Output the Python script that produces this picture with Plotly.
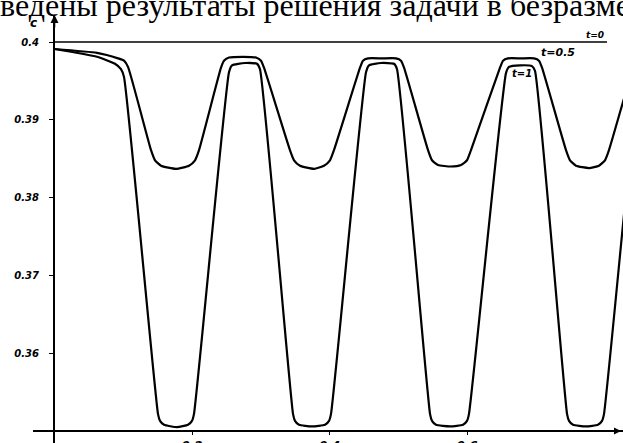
import plotly.graph_objects as go

# ---- data ----
x_t1 = [0.0, 0.0618, 0.0880, 0.0967, 0.1011,
        0.1505, 0.1535, 0.1593, 0.1782, 0.1942, 0.2000, 0.2029,
        0.2538, 0.2582, 0.2771, 0.2945, 0.2989,
        0.3469, 0.3498, 0.3556, 0.3745, 0.3935, 0.3993, 0.4022,
        0.4531, 0.4575, 0.4749, 0.4938, 0.4982,
        0.5462, 0.5491, 0.5549, 0.5753, 0.5942, 0.6000, 0.6029,
        0.6567, 0.6611, 0.6771, 0.6945, 0.6989,
        0.7455, 0.7484, 0.7542, 0.7731, 0.7905, 0.7964, 0.7993,
        0.8502, 0.8545]
y_t1 = [0.3991, 0.3981, 0.3972, 0.3965, 0.3955,
        0.3522, 0.3513, 0.3508, 0.3505, 0.3508, 0.3513, 0.3522,
        0.3961, 0.3970, 0.3973, 0.3972, 0.3965,
        0.3522, 0.3513, 0.3508, 0.3506, 0.3508, 0.3513, 0.3522,
        0.3961, 0.3970, 0.3973, 0.3972, 0.3965,
        0.3522, 0.3513, 0.3508, 0.3506, 0.3508, 0.3513, 0.3522,
        0.3960, 0.3968, 0.3970, 0.3969, 0.3963,
        0.3522, 0.3513, 0.3508, 0.3506, 0.3508, 0.3513, 0.3522,
        0.3961, 0.3970]

x_t05 = [0.0, 0.0618, 0.0924, 0.1011, 0.1069,
         0.1404, 0.1462, 0.1549, 0.1767, 0.1956, 0.2044, 0.2102,
         0.2422, 0.2465, 0.2538, 0.2742, 0.2931, 0.3004, 0.3047,
         0.3425, 0.3484, 0.3571, 0.3775, 0.3920, 0.4007, 0.4065,
         0.4444, 0.4487, 0.4560, 0.4764, 0.4967, 0.5040, 0.5084,
         0.5433, 0.5491, 0.5578, 0.5767, 0.5913, 0.6000, 0.6058,
         0.6480, 0.6524, 0.6596, 0.6785, 0.6975, 0.7047, 0.7091,
         0.7440, 0.7498, 0.7585, 0.7775, 0.7920, 0.8007, 0.8065,
         0.8415, 0.8458, 0.8531]
y_t05 = [0.3991, 0.3986, 0.3979, 0.3976, 0.3968,
         0.3861, 0.3848, 0.3841, 0.3837, 0.3841, 0.3848, 0.3861,
         0.3967, 0.3976, 0.3980, 0.3981, 0.3980, 0.3976, 0.3967,
         0.3861, 0.3848, 0.3841, 0.3837, 0.3841, 0.3848, 0.3861,
         0.3967, 0.3976, 0.3979, 0.3979, 0.3979, 0.3976, 0.3967,
         0.3861, 0.3848, 0.3842, 0.3840, 0.3842, 0.3848, 0.3861,
         0.3967, 0.3976, 0.3979, 0.3979, 0.3979, 0.3976, 0.3967,
         0.3861, 0.3848, 0.3841, 0.3838, 0.3841, 0.3848, 0.3861,
         0.3967, 0.3976, 0.3979]

x_t0 = [0.0, 0.8036]
y_t0 = [0.4, 0.4]

y_ticks = [0.36, 0.37, 0.38, 0.39, 0.40]
y_tick_text = ["0.36", "0.37", "0.38", "0.39", "0.4"]
x_ticks = [0.2, 0.4, 0.6]
x_tick_text = ["0.2", "0.4", "0.6"]

header = "ведены результаты решения задачи в безразме"

W, H = 623, 443
hand = dict(family="DejaVu Sans", color="black", style="italic", weight="bold")

fig = go.Figure()
line = dict(color="black", width=2.2, shape="spline", smoothing=0.5)
fig.add_trace(go.Scatter(x=x_t0, y=y_t0, mode="lines",
                         line=dict(color="black", width=1.6), showlegend=False))
fig.add_trace(go.Scatter(x=x_t05, y=y_t05, mode="lines", line=line, showlegend=False))
fig.add_trace(go.Scatter(x=x_t1, y=y_t1, mode="lines", line=line, showlegend=False))

# pixel geometry: x=0 at px 54.5, 687.5 px per unit; y=0.4 at py 42, 7780 px per unit
xr = [(33 - 54.5) / 687.5, (623 - 54.5) / 687.5]
yr = [0.4 - (443 - 42) / 7780, 0.4 + (42 - 15) / 7780]

fig.update_layout(
    width=W, height=H,
    margin=dict(l=0, r=0, t=0, b=0, pad=0, autoexpand=False),
    paper_bgcolor="white", plot_bgcolor="white",
    showlegend=False,
    xaxis=dict(range=xr, domain=[33 / W, 1], anchor="free",
               position=(H - 431) / H, automargin=False,
               showgrid=False, zeroline=False, showline=True,
               linecolor="black", linewidth=1.6,
               tickvals=x_ticks, ticktext=x_tick_text,
               ticks="outside", ticklen=3, tickcolor="black",
               ticklabelstandoff=1,
               tickfont=dict(size=12, **hand)),
    yaxis=dict(range=yr, domain=[0, (H - 15) / H], anchor="free",
               position=54 / W, automargin=False,
               showgrid=False, zeroline=False, showline=True,
               linecolor="black", linewidth=2,
               tickvals=y_ticks, ticktext=y_tick_text,
               ticks="outside", ticklen=4, tickcolor="black",
               ticklabelstandoff=8,
               tickfont=dict(size=10, **hand)),
    annotations=[
        dict(x=0.0, y=yr[1], xref="x", yref="y", ax=0, ay=14, text="",
             showarrow=True, arrowhead=2, arrowsize=1, arrowwidth=1.6,
             arrowcolor="black"),
        dict(x=(621 - 54.5) / 687.5, y=0.35, xref="x", yref="y", ax=-14, ay=0,
             text="", showarrow=True, arrowhead=2, arrowsize=1,
             arrowwidth=1.4, arrowcolor="black"),
        dict(x=-0.0305, y=0.40238, xref="x", yref="y", text="c",
             showarrow=False, font=dict(size=12, **hand)),
        dict(x=0.7862, y=0.4009, xref="x", yref="y", text="t=0",
             showarrow=False, font=dict(size=9, **hand)),
        dict(x=0.7324, y=0.39871, xref="x", yref="y", text="t=0.5",
             showarrow=False, font=dict(size=11, **hand)),
        dict(x=0.6800, y=0.3960, xref="x", yref="y", text="t=1",
             showarrow=False, font=dict(size=10, **hand)),
        dict(x=-2 / W, y=1, xref="paper", yref="paper", xanchor="left",
             yanchor="bottom", yshift=-25, text=header, showarrow=False,
             font=dict(family="Times New Roman, Liberation Serif, serif",
                       size=32, color="black")),
    ],
)

fig.write_html("out.html",
               config={"displayModeBar": False},
               post_script="document.body.style.margin='0';document.body.style.overflow='hidden';")
